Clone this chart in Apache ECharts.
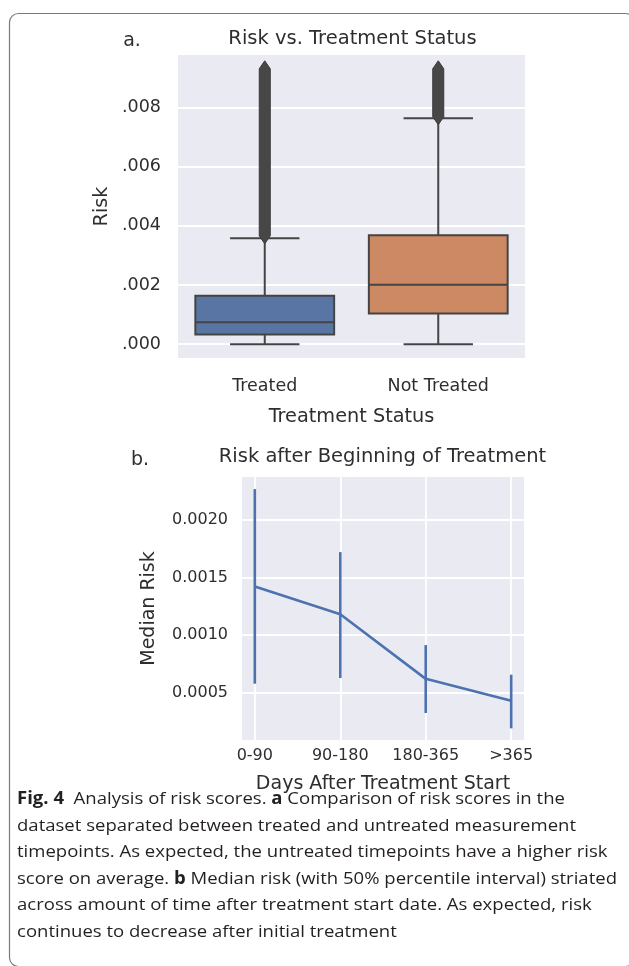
<!DOCTYPE html>
<html><head><meta charset="utf-8">
<script src="https://cdn.jsdelivr.net/npm/echarts@6/dist/echarts.min.js"></script>
<style>html,body{margin:0;padding:0;background:#fff}#c{width:629px;height:966px}</style>
</head><body><div id="c"></div>
<script>
// ---- Panel a data ----
const statusCategories = ['Treated', 'Not Treated'];
// [lower whisker, Q1, median, Q3, upper whisker]
const treatedBox = [0.0, 0.00033, 0.00074, 0.00164, 0.00358];
const notTreatedBox = [0.0, 0.00104, 0.00201, 0.00368, 0.00763];
// dense outlier stacks: [lowest outlier, highest outlier]
const treatedOutliers = [0.00366, 0.0093];
const notTreatedOutliers = [0.00768, 0.0093];
const riskTicks = [0, 0.002, 0.004, 0.006, 0.008];

// ---- Panel b data ----
const dayCategories = ['0-90', '90-180', '180-365', '>365'];
const medianRisk = [0.00142, 0.00118, 0.00062, 0.00043];
const intervalLow = [0.000578, 0.000627, 0.000324, 0.000191];
const intervalHigh = [0.002265, 0.001719, 0.000913, 0.000656];
const medianTicks = [0.0005, 0.0010, 0.0015, 0.0020];
const dayTicks = [0, 1, 2, 3];

// ---- Caption ----
const captionLines = [
  '{b|Fig. 4}  Analysis of risk scores. {b|a} Comparison of risk scores in the',
  'dataset separated between treated and untreated measurement',
  'timepoints. As expected, the untreated timepoints have a higher risk',
  'score on average. {b|b} Median risk (with 50% percentile interval) striated',
  'across amount of time after treatment start date. As expected, risk',
  'continues to decrease after initial treatment'
];

const BOX_COLORS = ['#5975a4', '#cc8963'];
const EDGE = '#444444';
const LINE_BLUE = '#4c72b0';
const TXT = '#2e2e2e';
const FONT = 'DejaVu Sans';
const CAP_FONT = 'Open Sans';
const CAP_SIZE = 17;

const boxData = [[0].concat(treatedBox), [1].concat(notTreatedBox)];
const outlierData = [[0].concat(treatedOutliers), [1].concat(notTreatedOutliers)];
const lineData = medianRisk.map((v, i) => [i, v]);
const errData = intervalLow.map((v, i) => [i, v, intervalHigh[i]]);

function renderBox(params, api) {
  const i = api.value(0);
  const p = [1, 2, 3, 4, 5].map(k => api.coord([i, api.value(k)]));
  const band = api.size([1, 0])[0];
  const cx = p[0][0];
  const hw = band * 0.4, cw = band * 0.2;
  const edge = { stroke: EDGE, lineWidth: 2, fill: null };
  return { type: 'group', children: [
    { type: 'line', shape: { x1: cx, y1: p[1][1], x2: cx, y2: p[0][1] }, style: edge },
    { type: 'line', shape: { x1: cx, y1: p[3][1], x2: cx, y2: p[4][1] }, style: edge },
    { type: 'line', shape: { x1: cx - cw, y1: p[0][1], x2: cx + cw, y2: p[0][1] }, style: edge },
    { type: 'line', shape: { x1: cx - cw, y1: p[4][1], x2: cx + cw, y2: p[4][1] }, style: edge },
    { type: 'rect', shape: { x: cx - hw, y: p[3][1], width: 2 * hw, height: p[1][1] - p[3][1] },
      style: { fill: BOX_COLORS[i], stroke: EDGE, lineWidth: 2 } },
    { type: 'line', shape: { x1: cx - hw, y1: p[2][1], x2: cx + hw, y2: p[2][1] }, style: edge }
  ]};
}

function renderOutliers(params, api) {
  const i = api.value(0);
  const lo = api.coord([i, api.value(1)]);
  const hi = api.coord([i, api.value(2)]);
  const cx = lo[0], w = 5.5, h = 8;
  return { type: 'polygon', shape: { points: [
    [cx, hi[1] - h], [cx + w, hi[1]], [cx + w, lo[1]], [cx, lo[1] + h], [cx - w, lo[1]], [cx - w, hi[1]]
  ]}, style: { fill: '#474747', stroke: '#3a3a3a', lineWidth: 1 } };
}

function renderErr(params, api) {
  const a = api.coord([api.value(0), api.value(1)]);
  const b = api.coord([api.value(0), api.value(2)]);
  return { type: 'line', shape: { x1: a[0], y1: a[1], x2: b[0], y2: b[1] },
    style: { stroke: LINE_BLUE, lineWidth: 2.6 } };
}

// caption horizontal scale from measured width
const cv = document.createElement('canvas').getContext('2d');
function measure(line) {
  let w = 0;
  const parts = line.split(/(\{b\|[^}]*\})/);
  parts.forEach(p => {
    const m = p.match(/^\{b\|([^}]*)\}$/);
    cv.font = (m ? 'bold ' : '') + CAP_SIZE + 'px "' + CAP_FONT + '"';
    w += cv.measureText(m ? m[1] : p).width;
  });
  return w;
}
const capScale = 600 / measure(captionLines[3]);
const capY = [799.5, 826, 852.5, 879, 905.5, 932];

const chart = echarts.init(document.getElementById('c'), null, { renderer: 'canvas' });
const axisText = { color: TXT, fontFamily: FONT };

chart.setOption({
  animation: false,
  backgroundColor: '#ffffff',
  grid: [
    { left: 178, top: 55, width: 347, height: 303, show: true, backgroundColor: '#eaeaf2', borderWidth: 0 },
    { left: 242, top: 477, width: 282, height: 263, show: true, backgroundColor: '#eaeaf2', borderWidth: 0 }
  ],
  xAxis: [
    { type: 'category', gridIndex: 0, data: statusCategories,
      axisLine: { show: false }, axisTick: { show: false }, splitLine: { show: false },
      axisLabel: Object.assign({ fontSize: 17.5, margin: 19 }, axisText),
      name: 'Treatment Status', nameLocation: 'middle', nameGap: 49,
      nameTextStyle: Object.assign({ fontSize: 19.3 }, axisText) },
    { type: 'value', gridIndex: 1, min: -0.15, max: 3.15,
      axisLine: { show: false },
      axisTick: { show: false, customValues: dayTicks },
      splitLine: { show: true, lineStyle: { color: '#ffffff', width: 1.8 } },
      axisLabel: Object.assign({ fontSize: 16, margin: 8, customValues: dayTicks,
        formatter: v => dayCategories[Math.round(v)] }, axisText),
      name: 'Days After Treatment Start', nameLocation: 'middle', nameGap: 35,
      nameTextStyle: Object.assign({ fontSize: 19 }, axisText) }
  ],
  yAxis: [
    { type: 'value', gridIndex: 0, min: -0.000465, max: 0.009765,
      axisLine: { show: false },
      axisTick: { show: false, customValues: riskTicks },
      splitLine: { show: true, lineStyle: { color: '#ffffff', width: 1.8 } },
      axisLabel: Object.assign({ fontSize: 17.5, margin: 17, customValues: riskTicks,
        formatter: v => v.toFixed(3).replace(/^0/, '') }, axisText),
      name: 'Risk', nameLocation: 'middle', nameGap: 66,
      nameTextStyle: Object.assign({ fontSize: 19.3 }, axisText) },
    { type: 'value', gridIndex: 1, min: 0.00009, max: 0.00237,
      axisLine: { show: false },
      axisTick: { show: false, customValues: medianTicks },
      splitLine: { show: true, lineStyle: { color: '#ffffff', width: 1.8 } },
      axisLabel: Object.assign({ fontSize: 16, margin: 14, customValues: medianTicks,
        formatter: v => v.toFixed(4) }, axisText),
      name: 'Median Risk', nameLocation: 'middle', nameGap: 83,
      nameTextStyle: Object.assign({ fontSize: 19 }, axisText) }
  ],
  series: [
    { type: 'custom', xAxisIndex: 0, yAxisIndex: 0, data: boxData, renderItem: renderBox,
      encode: { x: 0, y: [1, 2, 3, 4, 5] }, z: 3 },
    { type: 'custom', xAxisIndex: 0, yAxisIndex: 0, data: outlierData, renderItem: renderOutliers,
      encode: { x: 0, y: [1, 2] }, z: 4 },
    { type: 'custom', xAxisIndex: 1, yAxisIndex: 1, data: errData, renderItem: renderErr,
      encode: { x: 0, y: [1, 2] }, z: 3 },
    { type: 'line', xAxisIndex: 1, yAxisIndex: 1, data: lineData, showSymbol: false, symbol: 'none',
      lineStyle: { color: LINE_BLUE, width: 2.6 }, z: 4 }
  ],
  graphic: [
    { type: 'rect', shape: { x: 9.5, y: 13.5, width: 625, height: 953, r: 9 },
      style: { fill: null, stroke: '#7a7a7a', lineWidth: 1.2 }, silent: true, z: 10 },
    { type: 'text', x: 352.5, y: 39, style: { text: 'Risk vs. Treatment Status', fontSize: 19.5,
      fontFamily: FONT, fill: TXT, align: 'center', verticalAlign: 'middle' } },
    { type: 'text', x: 132, y: 41, style: { text: 'a.', fontSize: 19, fontFamily: FONT, fill: TXT,
      align: 'center', verticalAlign: 'middle' } },
    { type: 'text', x: 382.5, y: 457, style: { text: 'Risk after Beginning of Treatment', fontSize: 19.5,
      fontFamily: FONT, fill: TXT, align: 'center', verticalAlign: 'middle' } },
    { type: 'text', x: 140, y: 460, style: { text: 'b.', fontSize: 19, fontFamily: FONT, fill: TXT,
      align: 'center', verticalAlign: 'middle' } }
  ].concat(captionLines.map((line, k) => ({
    type: 'text', x: 17, y: capY[k], scaleX: capScale,
    style: { text: line, x: 0, y: 0, fontSize: CAP_SIZE, fontFamily: CAP_FONT, fill: '#231f20',
      verticalAlign: 'middle', align: 'left',
      rich: { b: { fontSize: CAP_SIZE, fontFamily: CAP_FONT, fontWeight: 'bold', fill: '#231f20' } } }
  })))
});
</script>
</body></html>
